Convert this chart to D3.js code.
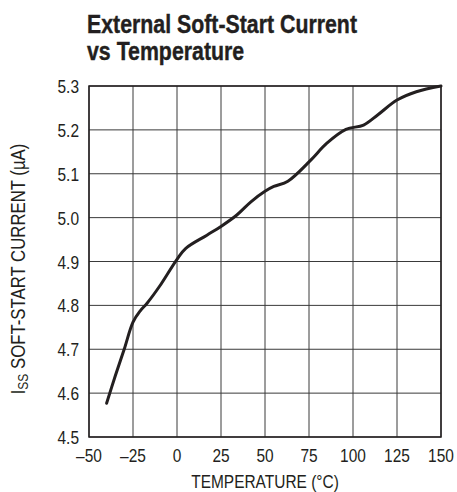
<!DOCTYPE html>
<html>
<head>
<meta charset="utf-8">
<script src="https://cdn.jsdelivr.net/npm/d3@7"></script>
<style>
  body { margin: 0; background: #fff; }
  text { fill: #231f20; font-family: "Liberation Sans", Arial, sans-serif; }
</style>
</head>
<body>
<div id="chart"></div>
<script>
const temperature = [-40, -35, -30, -25, -21, -17, -10, 0, 5, 17, 25, 34, 42, 50, 55, 63, 76, 85, 96, 106, 114, 125, 136, 150];
const current = [4.577, 4.64, 4.70, 4.762, 4.787, 4.805, 4.843, 4.905, 4.93, 4.96, 4.98, 5.006, 5.036, 5.06, 5.071, 5.083, 5.131, 5.169, 5.201, 5.211, 5.234, 5.268, 5.287, 5.30];
const xTicks = [-50, -25, 0, 25, 50, 75, 100, 125, 150];
const yTicks = [4.5, 4.6, 4.7, 4.8, 4.9, 5.0, 5.1, 5.2, 5.3];
const titleLines = ["External Soft-Start Current", "vs Temperature"];

const width = 457, height = 492;
const margin = { top: 86, right: 16, bottom: 55, left: 89 };
const squeeze = 0.86; // condensed look

const svg = d3.select("#chart").append("svg")
  .attr("width", width)
  .attr("height", height);

const x = d3.scaleLinear().domain([-50, 150]).range([margin.left, width - margin.right]);
const y = d3.scaleLinear().domain([4.5, 5.3]).range([height - margin.bottom, margin.top]);

// grid
svg.append("g")
  .selectAll("line")
  .data(xTicks)
  .join("line")
  .attr("x1", d => x(d)).attr("x2", d => x(d))
  .attr("y1", y(4.5)).attr("y2", y(5.3))
  .attr("stroke", "#3a3a3a").attr("stroke-width", 1);

svg.append("g")
  .selectAll("line")
  .data(yTicks)
  .join("line")
  .attr("y1", d => y(d)).attr("y2", d => y(d))
  .attr("x1", x(-50)).attr("x2", x(150))
  .attr("stroke", "#3a3a3a").attr("stroke-width", 1);

svg.append("rect")
  .attr("x", x(-50)).attr("y", y(5.3))
  .attr("width", x(150) - x(-50)).attr("height", y(4.5) - y(5.3))
  .attr("fill", "none").attr("stroke", "#231f20").attr("stroke-width", 1.5);

// tick labels
svg.append("g")
  .selectAll("text")
  .data(yTicks)
  .join("text")
  .attr("transform", d => `translate(${x(-50) - 10},${y(d) + 7}) scale(${squeeze},1)`)
  .attr("text-anchor", "end")
  .attr("font-size", 18)
  .text(d => d.toFixed(1));

svg.append("g")
  .selectAll("text")
  .data(xTicks)
  .join("text")
  .attr("transform", d => `translate(${x(d)},462) scale(${squeeze},1)`)
  .attr("text-anchor", "middle")
  .attr("font-size", 18)
  .text(d => d < 0 ? "\u2013" + Math.abs(d) : d);

// axis titles
svg.append("text")
  .attr("transform", `translate(${(x(-50) + x(150)) / 2},488) scale(${squeeze},1)`)
  .attr("text-anchor", "middle")
  .attr("font-size", 18)
  .text("TEMPERATURE (°C)");

const yt = svg.append("text")
  .attr("transform", `translate(25,269) rotate(-90) scale(${squeeze},1)`)
  .attr("text-anchor", "middle")
  .attr("font-size", 19.5);
yt.append("tspan").text("I");
yt.append("tspan").attr("font-size", 14).attr("dy", 3).text("SS");
yt.append("tspan").attr("dy", -3).text(" SOFT-START CURRENT (µA)");

// title
svg.append("g")
  .selectAll("text")
  .data(titleLines)
  .join("text")
  .attr("transform", (d, i) => `translate(87,${33 + i * 27}) scale(0.82,1)`)
  .attr("font-size", 26)
  .attr("font-weight", "bold")
  .attr("stroke", "#231f20")
  .attr("stroke-width", 0.4)
  .text(d => d);

// curve
const line = d3.line()
  .x((d, i) => x(temperature[i]))
  .y(d => y(d))
  .curve(d3.curveCatmullRom.alpha(0.5));

svg.append("path")
  .datum(current)
  .attr("d", line)
  .attr("fill", "none")
  .attr("stroke", "#231f20")
  .attr("stroke-width", 3)
  .attr("stroke-linecap", "round");
</script>
</body>
</html>
